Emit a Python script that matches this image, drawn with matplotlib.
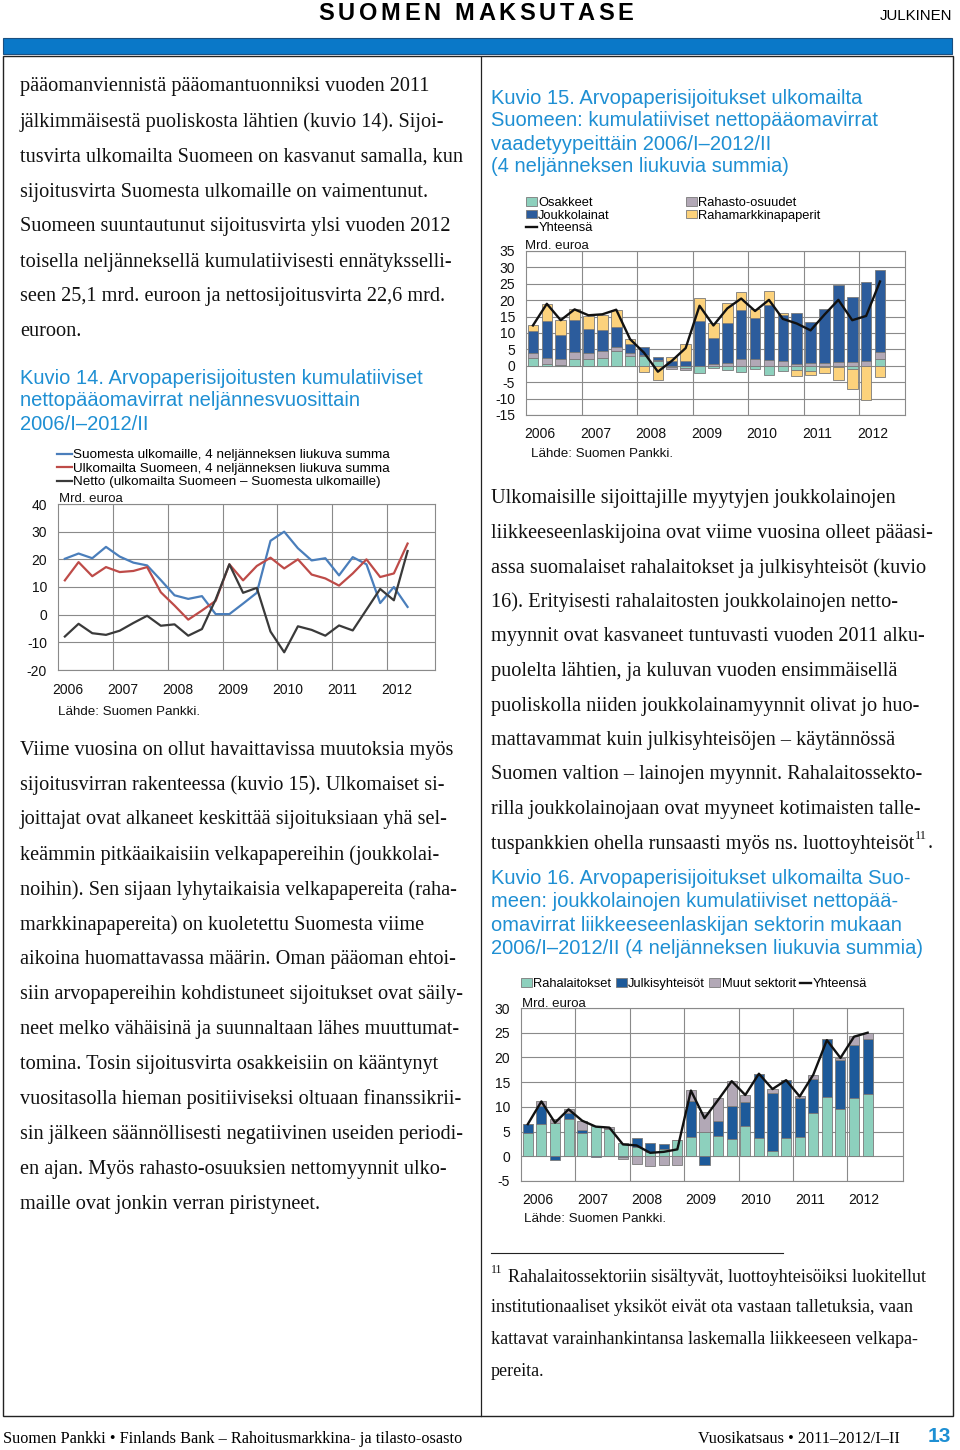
import matplotlib
matplotlib.use('Agg')
import matplotlib.pyplot as plt
from matplotlib.patches import Rectangle, Patch
from matplotlib.lines import Line2D
import numpy as np

# ---------------- DATA ----------------
years = ['2006', '2007', '2008', '2009', '2010', '2011', '2012']

# Kuvio 14 (Mrd. euroa, 2006/I - 2012/II)
suomesta_ulkomaille = [20.2, 22.1, 20.4, 24.5, 21.0, 18.8, 17.8, 12.5, 7.0, 5.7, 6.7, 0.2, 0.2,
                       4.0, 7.9, 26.7, 30.0, 24.0, 19.6, 20.4, 14.2, 20.8, 18.2, 4.2, 10.0, 2.8]
ulkomailta_suomeen = [12.4, 19.0, 13.9, 17.2, 15.4, 15.8, 17.2, 8.1, 3.3, -1.8, 1.5, 5.0, 18.2,
                      12.4, 17.6, 20.6, 16.7, 20.0, 14.5, 13.1, 10.5, 14.9, 20.0, 13.6, 14.9, 25.7]
netto = [-7.9, -3.3, -6.7, -7.3, -5.8, -3.0, -0.4, -4.0, -3.5, -7.6, -5.2, 5.5, 18.2,
         7.9, 9.7, -6.1, -13.6, -4.2, -5.5, -7.6, -3.9, -5.7, 1.8, 9.3, 5.2, 23.0]

# Kuvio 15
osakkeet = [2.3, 0.5, 0.2, 2.0, 2.0, 2.5, 4.5, 3.0, 3.0, 1.6, -0.5, -0.8, -2.3,
            -0.8, -1.3, -2.0, -1.0, -2.7, -1.7, -1.2, -1.5, -0.3, -0.3, -1.0, -0.2, 2.0]
rahasto_osuudet = [1.7, 1.8, 1.8, 2.2, 1.8, 1.9, 1.2, 0.8, 0.2, 0.2, -0.6, -0.4, 0.0,
                   0.7, 1.0, 2.0, 2.2, 1.7, 1.5, 0.7, 1.0, 0.8, 1.2, 1.2, 1.5, 2.2]
joukkolainat = [6.6, 11.3, 7.3, 9.9, 7.5, 6.4, 6.1, 2.7, 2.5, 1.0, 1.5, 1.6, 13.6,
                7.8, 11.9, 15.1, 12.4, 16.9, 13.9, 15.4, 12.3, 16.6, 23.5, 19.8, 24.1, 25.0]
rahamarkkinapaperit = [1.7, 5.3, 4.6, 3.2, 4.0, 4.8, 5.3, 1.7, -1.8, -4.3, 1.3, 4.9, 7.0,
                       4.6, 6.2, 5.5, 2.7, 4.3, 0.7, -2.0, -1.2, -1.9, -4.0, -6.0, -10.1, -3.5]
yhteensa15 = [12.3, 18.9, 13.9, 17.2, 15.4, 15.7, 17.1, 8.1, 4.0, -1.8, 1.5, 5.4, 18.3,
              12.3, 17.5, 20.5, 16.7, 20.1, 14.3, 12.9, 10.8, 15.6, 20.1, 13.9, 15.2, 25.7]

# Kuvio 16
rahalaitokset = [4.8, 6.5, 6.7, 7.5, 4.8, 6.1, 5.6, 2.6, 1.9, 0.9, 1.5, 3.3, 4.0,
                 5.0, 4.1, 3.4, 6.1, 3.7, 1.1, 3.7, 3.9, 8.7, 11.9, 9.5, 11.8, 12.6]
julkisyhteisot = [1.7, 3.7, -0.8, 1.2, 0.6, -0.2, 0.0, -0.2, 1.8, 1.7, 1.0, 0.0, 7.1,
                  -1.7, 3.1, 6.7, 4.8, 13.0, 11.8, 11.7, 7.9, 6.9, 11.8, 10.0, 10.7, 11.1]
muut_sektorit = [0.0, 0.9, 0.8, 0.8, 1.8, 0.0, 0.4, -0.3, -1.5, -2.0, -1.7, -1.8, 2.4,
                 4.0, 4.6, 5.1, 1.4, 0.0, 0.7, 0.0, 0.4, 0.9, 0.0, 0.4, 1.9, 1.3]
yhteensa16 = [6.5, 11.1, 6.8, 9.5, 7.2, 6.0, 5.8, 2.4, 2.2, 0.7, 0.9, 1.4, 13.3,
              7.7, 11.4, 15.2, 12.4, 16.7, 13.6, 15.4, 12.1, 16.5, 23.5, 19.9, 24.2, 25.0]

# ---------------- LAYOUT HELPERS ----------------
W, H = 960, 1450
fig = plt.figure(figsize=(W / 100, H / 100), dpi=100)
renderer = fig.canvas.get_renderer()

SERIF = ['Liberation Serif', 'DejaVu Serif']
SANS = ['Liberation Sans', 'DejaVu Sans']
BLUE_T = '#1e8fd3'
GRID = '#8a8a8a'


def fx(x):
    return x / W


def fy(y):
    return 1 - y / H


def T(x, y, s, **kw):
    kw.setdefault('va', 'center')
    return fig.text(fx(x), fy(y), s, **kw)


def width_px(t):
    return t.get_window_extent(renderer).width


def axes_px(l, t, r, b):
    return fig.add_axes([fx(l), fy(b), (r - l) / W, (b - t) / H])


# ---------------- PAGE FRAME ----------------
fig.add_artist(Rectangle((fx(3), fy(54)), (952 - 3) / W, 16 / H, transform=fig.transFigure,
                         facecolor='#0a78c8', edgecolor='#1a4f80', lw=0.8))
fig.add_artist(Rectangle((fx(3), fy(1416)), (953 - 3) / W, (1416 - 56) / H, transform=fig.transFigure,
                         facecolor='none', edgecolor='#222222', lw=1.0))
fig.add_artist(Line2D([fx(481), fx(481)], [fy(57), fy(1416)], transform=fig.transFigure,
                      color='#222222', lw=0.9))

# header with letter spacing
hdr = 'SUOMEN MAKSUTASE'
chars = []
for ch in hdr:
    t = T(0, 13, ch, family=SANS, fontsize=17, fontweight='bold')
    chars.append(t)
spacing = 3.6
ws = [width_px(t) if ch != ' ' else 7 for t, ch in zip(chars, hdr)]
total = sum(ws) + spacing * (len(hdr) - 1)
xc = 476 - total / 2
for t, w in zip(chars, ws):
    t.set_x(fx(xc))
    xc += w + spacing
T(952, 16, 'JULKINEN', family=SANS, fontsize=10.8, ha='right')

# footer
T(3, 1439, 'Suomen Pankki • Finlands Bank – Rahoitusmarkkina- ja tilasto-osasto',
  family=SERIF, fontsize=11.7)
T(900, 1439, 'Vuosikatsaus • 2011–2012/I–II', family=SERIF, fontsize=11.7, ha='right')
T(951, 1436, '13', family=SANS, fontsize=15, fontweight='bold', color=BLUE_T, ha='right')

# ---------------- TEXT ----------------
BODY = dict(family=SERIF, fontsize=14.6, color='#111111')
left1 = ['pääomanviennistä pääomantuonniksi vuoden 2011',
         'jälkimmäisestä puoliskosta lähtien (kuvio 14). Sijoi-',
         'tusvirta ulkomailta Suomeen on kasvanut samalla, kun',
         'sijoitusvirta Suomesta ulkomaille on vaimentunut.',
         'Suomeen suuntautunut sijoitusvirta ylsi vuoden 2012',
         'toisella neljänneksellä kumulatiivisesti ennätyksselli-',
         'seen 25,1 mrd. euroon ja nettosijoitusvirta 22,6 mrd.',
         'euroon.']
for i, s in enumerate(left1):
    T(20, 87 + 35 * i, s, **BODY)

left2 = ['Viime vuosina on ollut havaittavissa muutoksia myös',
         'sijoitusvirran rakenteessa (kuvio 15). Ulkomaiset si-',
         'joittajat ovat alkaneet keskittää sijoituksiaan yhä sel-',
         'keämmin pitkäaikaisiin velkapapereihin (joukkolai-',
         'noihin). Sen sijaan lyhytaikaisia velkapapereita (raha-',
         'markkinapapereita) on kuoletettu Suomesta viime',
         'aikoina huomattavassa määrin. Oman pääoman ehtoi-',
         'siin arvopapereihin kohdistuneet sijoitukset ovat säily-',
         'neet melko vähäisinä ja suunnaltaan lähes muuttumat-',
         'tomina. Tosin sijoitusvirta osakkeisiin on kääntynyt',
         'vuositasolla hieman positiiviseksi oltuaan finanssikrii-',
         'sin jälkeen säännöllisesti negatiivinen useiden periodi-',
         'en ajan. Myös rahasto-osuuksien nettomyynnit ulko-',
         'maille ovat jonkin verran piristyneet.']
for i, s in enumerate(left2):
    T(20, 750 + 34.95 * i, s, **BODY)

right1 = ['Ulkomaisille sijoittajille myytyjen joukkolainojen',
          'liikkeeseenlaskijoina ovat viime vuosina olleet pääasi-',
          'assa suomalaiset rahalaitokset ja julkisyhteisöt (kuvio',
          '16). Erityisesti rahalaitosten joukkolainojen netto-',
          'myynnit ovat kasvaneet tuntuvasti vuoden 2011 alku-',
          'puolelta lähtien, ja kuluvan vuoden ensimmäisellä',
          'puoliskolla niiden joukkolainamyynnit olivat jo huo-',
          'mattavammat kuin julkisyhteisöjen – käytännössä',
          'Suomen valtion – lainojen myynnit. Rahalaitossekto-',
          'rilla joukkolainojaan ovat myyneet kotimaisten talle-',
          'tuspankkien ohella runsaasti myös ns. luottoyhteisöt']
last_t = None
for i, s in enumerate(right1):
    last_t = T(491, 499 + 34.5 * i, s, **BODY)
xe = 491 + width_px(last_t)
sup = T(xe + 1, 836, '11', family=SERIF, fontsize=9, color='#111111')
T(xe + 1 + width_px(sup), 844, '.', **BODY)

TITLE = dict(family=SANS, fontsize=14.5, color=BLUE_T)
for i, s in enumerate(['Kuvio 14. Arvopaperisijoitusten kumulatiiviset',
                       'nettopääomavirrat neljännesvuosittain',
                       '2006/I–2012/II']):
    T(20, 378 + 23 * i, s, **TITLE)
for i, s in enumerate(['Kuvio 15. Arvopaperisijoitukset ulkomailta',
                       'Suomeen: kumulatiiviset nettopääomavirrat',
                       'vaadetyypeittäin 2006/I–2012/II',
                       '(4 neljänneksen liukuvia summia)']):
    T(491, 98 + 23 * i, s, **TITLE)
for i, s in enumerate(['Kuvio 16. Arvopaperisijoitukset ulkomailta Suo-',
                       'meen: joukkolainojen kumulatiiviset nettopää-',
                       'omavirrat liikkeeseenlaskijan sektorin mukaan',
                       '2006/I–2012/II (4 neljänneksen liukuvia summia)']):
    T(491, 879 + 23 * i, s, **TITLE)

# footnote
fig.add_artist(Line2D([fx(491), fx(783)], [fy(1253), fy(1253)], transform=fig.transFigure,
                      color='#222222', lw=0.8))
FN = dict(family=SERIF, fontsize=13.0, color='#111111')
T(491, 1270, '11', family=SERIF, fontsize=8.5, color='#111111')
T(508, 1277, 'Rahalaitossektoriin sisältyvät, luottoyhteisöiksi luokitellut', **FN)
T(491, 1308, 'institutionaaliset yksiköt eivät ota vastaan talletuksia, vaan', **FN)
T(491, 1340, 'kattavat varainhankintansa laskemalla liikkeeseen velkapa-', **FN)
T(491, 1371, 'pereita.', **FN)

# ---------------- CHART HELPERS ----------------
SMALL = dict(family=SANS, fontsize=9.5, color='#111111')


def style_axes(ax, xlim, ylim, yticks, xtickpos):
    ax.set_xlim(*xlim)
    ax.set_ylim(*ylim)
    ax.set_yticks(yticks)
    ax.set_yticklabels([str(v) for v in yticks], family=SANS, fontsize=10)
    ax.set_xticks(xtickpos)
    ax.set_xticklabels(years, family=SANS, fontsize=10)
    ax.tick_params(length=0, pad=8, colors='#111111')
    ax.tick_params(axis='x', pad=9)
    ax.yaxis.grid(True, color=GRID, lw=0.8)
    for b in np.arange(3.5, 24, 4):
        ax.axvline(b, color=GRID, lw=0.8, zorder=0.5)
    ax.set_axisbelow(True)
    for sp in ax.spines.values():
        sp.set_color(GRID)
        sp.set_linewidth(0.8)


def stacked(ax, series, colors, width):
    n = len(series[0])
    x = np.arange(n)
    pos = np.zeros(n)
    neg = np.zeros(n)
    for vals, c in zip(series, colors):
        v = np.array(vals, dtype=float)
        bottom = np.where(v >= 0, pos, neg)
        ax.bar(x, v, bottom=bottom, width=width, color=c, edgecolor='#7a7a7a',
               linewidth=0.6, zorder=2)
        pos += np.where(v >= 0, v, 0)
        neg += np.where(v < 0, v, 0)


C_TEAL = '#8dd0bd'
C_MAUVE = '#b2a8b6'
C_BLUE = '#2c5c9c'
C_BLUE16 = '#1d5a9a'
C_ORANGE = '#fcd27c'

# ---------------- KUVIO 14 ----------------
ax14 = axes_px(58, 504, 435, 670)
x = np.arange(len(netto))
l1, = ax14.plot(x, suomesta_ulkomaille, color='#4a7ebb', lw=1.6, zorder=3)
l2, = ax14.plot(x, ulkomailta_suomeen, color='#be4b48', lw=1.6, zorder=3)
l3, = ax14.plot(x, netto, color='#3a3a3a', lw=1.6, zorder=3)
style_axes(ax14, (-0.5, 27.0), (-20, 40), list(range(-20, 41, 10)), np.arange(0.25, 27, 4))
ax14.legend([l1, l2, l3],
            ['Suomesta ulkomaille, 4 neljänneksen liukuva summa',
             'Ulkomailta Suomeen, 4 neljänneksen liukuva summa',
             'Netto (ulkomailta Suomeen – Suomesta ulkomaille)'],
            loc='upper left', bbox_to_anchor=(fx(57), fy(449)), bbox_transform=fig.transFigure,
            frameon=False, handlelength=1.1, handletextpad=0.1, labelspacing=0.08,
            borderpad=0, borderaxespad=0, prop=dict(family=SANS, size=9.7))
T(59, 499, 'Mrd. euroa', **SMALL)
T(58, 712, 'Lähde: Suomen Pankki.', family=SANS, fontsize=9.6, color='#111111')

# ---------------- KUVIO 15 ----------------
ax15 = axes_px(526, 251, 905, 415)
stacked(ax15, [osakkeet, rahasto_osuudet, joukkolainat, rahamarkkinapaperit],
        [C_TEAL, C_MAUVE, C_BLUE, C_ORANGE], 0.76)
ly15, = ax15.plot(x, yhteensa15, color='#111111', lw=1.7, zorder=4)
style_axes(ax15, (-0.5, 26.8), (-15, 35), list(range(-15, 36, 5)), np.arange(0.5, 27, 4))
P = lambda c: Patch(facecolor=c, edgecolor='#7a7a7a', linewidth=0.6)
leg_kw = dict(frameon=False, handlelength=0.85, handleheight=0.65, handletextpad=0.1,
              labelspacing=0.05, borderpad=0, borderaxespad=0, prop=dict(family=SANS, size=9.3),
              bbox_transform=fig.transFigure, loc='upper left')
lg1 = ax15.legend([P(C_TEAL), P(C_BLUE), Line2D([], [], color='#111111', lw=1.7)],
                  ['Osakkeet', 'Joukkolainat', 'Yhteensä'], bbox_to_anchor=(fx(526), fy(197)), **leg_kw)
ax15.add_artist(lg1)
ax15.legend([P(C_MAUVE), P(C_ORANGE)], ['Rahasto-osuudet', 'Rahamarkkinapaperit'],
            bbox_to_anchor=(fx(686), fy(197)), **leg_kw)
T(525, 246, 'Mrd. euroa', **SMALL)
T(531, 454, 'Lähde: Suomen Pankki.', family=SANS, fontsize=9.6, color='#111111')

# ---------------- KUVIO 16 ----------------
ax16 = axes_px(521, 1008, 903, 1181)
stacked(ax16, [rahalaitokset, julkisyhteisot, muut_sektorit], [C_TEAL, C_BLUE16, C_MAUVE], 0.74)
ax16.plot(x, yhteensa16, color='#111111', lw=1.7, zorder=4)
style_axes(ax16, (-0.5, 27.6), (-5, 30), list(range(-5, 31, 5)), np.arange(0.75, 27, 4))
ax16.legend([P(C_TEAL), P(C_BLUE16), P(C_MAUVE), Line2D([], [], color='#111111', lw=1.7)],
            ['Rahalaitokset', 'Julkisyhteisöt', 'Muut sektorit', 'Yhteensä'],
            ncol=4, columnspacing=0.35, bbox_to_anchor=(fx(521), fy(978)), **leg_kw)
T(522, 1004, 'Mrd. euroa', **SMALL)
T(524, 1219, 'Lähde: Suomen Pankki.', family=SANS, fontsize=9.6, color='#111111')

fig.savefig('out.png', dpi=100)
